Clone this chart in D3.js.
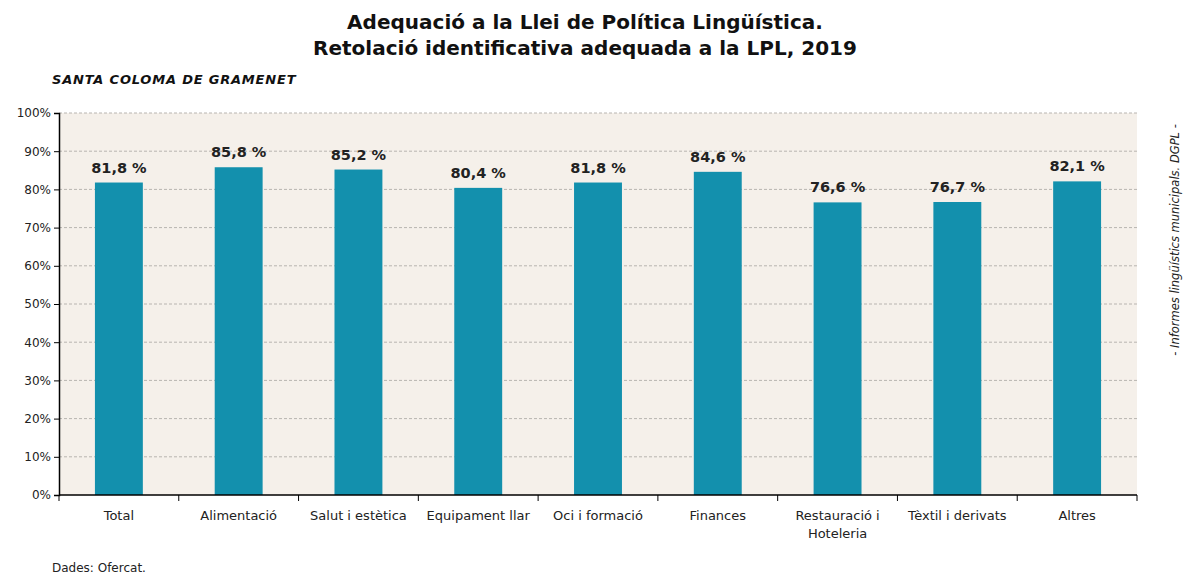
<!DOCTYPE html>
<html>
<head>
<meta charset="utf-8">
<script src="https://cdn.jsdelivr.net/npm/d3@7"></script>
<style>
body { margin: 0; background: #fff; }
text { font-family: "DejaVu Sans", sans-serif; }
</style>
</head>
<body>
<svg id="chart" width="1185" height="576"></svg>
<script>
const categories = ["Total", "Alimentació", "Salut i estètica", "Equipament llar", "Oci i formació", "Finances", "Restauració i|Hoteleria", "Tèxtil i derivats", "Altres"]
const values = [81.8, 85.8, 85.2, 80.4, 81.8, 84.6, 76.6, 76.7, 82.1]
const yTicks = [0, 10, 20, 30, 40, 50, 60, 70, 80, 90, 100]

const svg = d3.select("#chart")
const plotLeft = 59, plotRight = 1137, plotTop = 113, plotBottom = 495

const x = d3.scaleBand().domain(categories).range([plotLeft, plotRight]).paddingInner(0.6).paddingOuter(0.3)
const y = d3.scaleLinear().domain([0, 100]).range([plotBottom, plotTop])

// fondo
svg.append("rect")
    .attr("x", plotLeft).attr("y", plotTop)
    .attr("width", plotRight - plotLeft).attr("height", plotBottom - plotTop)
    .attr("fill", "#f5f0ea")

// grid
svg.selectAll(".grid").data(yTicks.filter(d => d > 0)).join("line")
    .attr("x1", plotLeft).attr("x2", plotRight)
    .attr("y1", d => y(d)).attr("y2", d => y(d))
    .attr("stroke", "#b8b4b0")
    .attr("stroke-dasharray", "3,2")
    .attr("stroke-width", 1)

// barras
svg.selectAll(".bar").data(values).join("rect")
    .attr("x", (d, i) => x(categories[i]))
    .attr("y", d => y(d))
    .attr("width", x.bandwidth())
    .attr("height", d => y(0) - y(d))
    .attr("fill", "#1390ad")

svg.selectAll(".val").data(values).join("text")
    .attr("x", (d, i) => x(categories[i]) + x.bandwidth() / 2)
    .attr("y", d => y(d) - 10)
    .attr("text-anchor", "middle")
    .attr("font-size", 14.5)
    .attr("font-weight", "bold")
    .attr("fill", "#222")
    .text(d => d.toFixed(1).replace(".", ",") + " %")

// eje y
const yAxis = svg.append("g")
    .attr("transform", `translate(${plotLeft},0)`)
    .call(d3.axisLeft(y).tickValues(yTicks).tickSize(5).tickFormat(d => d + "%"))
yAxis.select(".domain").attr("stroke", "#000").attr("stroke-width", 1.5)
yAxis.selectAll("text").attr("font-size", 12).attr("fill", "#222").attr("font-family", "DejaVu Sans")
yAxis.selectAll(".tick line").attr("stroke", "#000")

// eje x
const bx = svg.append("g")
bx.append("line")
    .attr("x1", plotLeft).attr("x2", plotRight)
    .attr("y1", plotBottom).attr("y2", plotBottom)
    .attr("stroke", "#000").attr("stroke-width", 1.5)
const bounds = d3.range(categories.length + 1).map(i => plotLeft + i * (plotRight - plotLeft) / categories.length)
bx.selectAll(".tk").data(bounds).join("line")
    .attr("x1", d => d).attr("x2", d => d)
    .attr("y1", plotBottom).attr("y2", plotBottom + 6)
    .attr("stroke", "#000")

bx.selectAll(".cat").data(categories).join("text")
    .attr("x", d => x(d) + x.bandwidth() / 2)
    .attr("y", 520)
    .attr("text-anchor", "middle")
    .attr("font-size", 13)
    .attr("fill", "#222")
    .each(function (d) {
        const parts = d.split("|")
        d3.select(this).selectAll("tspan").data(parts).join("tspan")
            .attr("x", x(d) + x.bandwidth() / 2)
            .attr("dy", (p, i) => i === 0 ? 0 : 18)
            .text(p => p)
    })

// títulos
svg.append("text").attr("x", 585).attr("y", 29).attr("text-anchor", "middle")
    .attr("font-size", 20).attr("font-weight", "bold").attr("fill", "#111")
    .text("Adequació a la Llei de Política Lingüística.")
svg.append("text").attr("x", 585).attr("y", 55).attr("text-anchor", "middle")
    .attr("font-size", 20).attr("font-weight", "bold").attr("fill", "#111")
    .text("Retolació identificativa adequada a la LPL, 2019")
svg.append("text").attr("x", 52).attr("y", 84)
    .attr("font-size", 13).attr("font-weight", "bold").attr("font-style", "italic").attr("fill", "#111")
    .attr("letter-spacing", 0.8)
    .text("SANTA COLOMA DE GRAMENET")
svg.append("text").attr("x", 52).attr("y", 572)
    .attr("font-size", 12).attr("fill", "#222")
    .text("Dades: Ofercat.")
svg.append("text")
    .attr("transform", "translate(1179,240) rotate(-90)")
    .attr("text-anchor", "middle")
    .attr("font-size", 11.5).attr("font-style", "italic").attr("fill", "#222")
    .text("- Informes lingüístics municipals. DGPL -")
</script>
</body>
</html>
